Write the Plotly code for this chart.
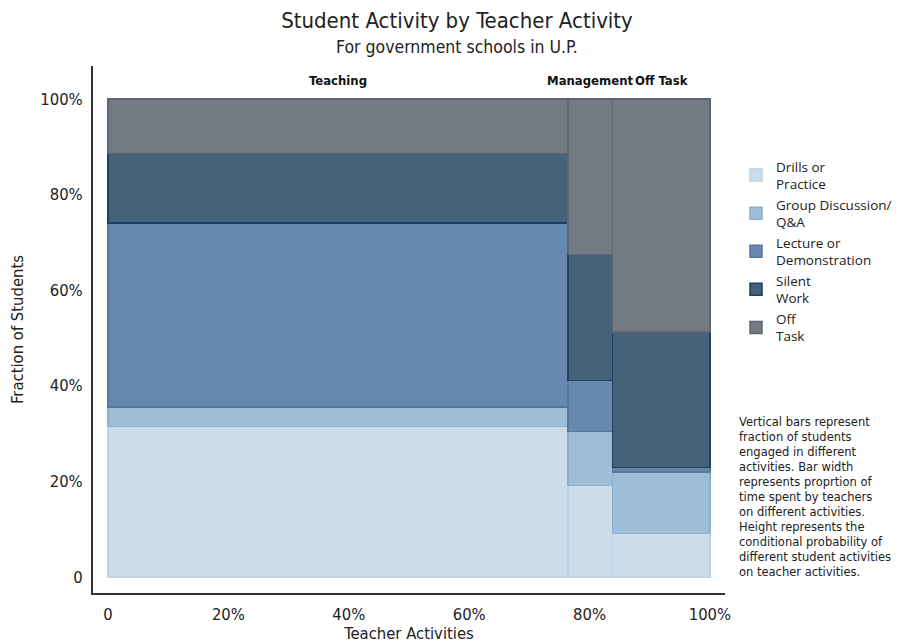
import plotly.graph_objects as go

# ── Data ──────────────────────────────────────────────────────────────────────
teacher_activities = ["Teaching", "Management", "Off Task"]
teacher_share = [0.764, 0.074, 0.162]          # bar widths (fraction of teacher time)

student_activities = ["Drills or<br>Practice", "Group Discussion/<br>Q&A",
                      "Lecture or<br>Demonstration", "Silent<br>Work", "Off<br>Task"]
drills = [0.314, 0.191, 0.091]
group_discussion = [0.041, 0.113, 0.128]
lecture = [0.385, 0.107, 0.010]
silent_work = [0.146, 0.263, 0.283]
off_task = [0.114, 0.326, 0.488]
series = [drills, group_discussion, lecture, silent_work, off_task]

tick_vals = [0, 0.2, 0.4, 0.6, 0.8, 1.0]
tick_text = ["0", "20%", "40%", "60%", "80%", "100%"]

note_lines = [
    "Vertical bars represent", "fraction of students", "engaged in different",
    "activities. Bar width", "represents proprtion of", "time spent by teachers",
    "on different activities.", "Height represents the", "conditional probability of",
    "different student activities", "on teacher activities.",
]

# ── Styling ───────────────────────────────────────────────────────────────────
FILLS = ["#CCDCE9", "#9EBDD7", "#6789AD", "#45627B", "#737A83"]
EDGES = ["#BED2E4", "#8CAFCF", "#5577A0", "#213F61", "#5E666F"]
NARROW = "Liberation Sans Narrow, Arial Narrow, DejaVu Sans Condensed, sans-serif"
BODY = "Open Sans, sans-serif"
TEXT = "#222"

# page body has an 8px margin, so the figure is 912x635 inside the 920x643 window
W, H = 912, 635
LEFT, RIGHT, TOP, BOTTOM = 85, 717, 58, 585     # plot area in figure pixels


def paper_y(py):
    return (BOTTOM - py) / (BOTTOM - TOP)


def paper_x(px):
    return (px - LEFT) / (RIGHT - LEFT)


# mosaic geometry: bar centres from cumulative widths
left_edges = [sum(teacher_share[:i]) for i in range(len(teacher_share))]
centres = [l + w / 2 for l, w in zip(left_edges, teacher_share)]

fig = go.Figure()
for name, vals, fill, edge in zip(student_activities, series, FILLS, EDGES):
    fig.add_trace(go.Bar(
        name=name, x=centres, y=vals, width=teacher_share,
        marker=dict(color=fill, line=dict(color=edge, width=1.5)),
        customdata=teacher_activities,
        hovertemplate="%{customdata}<br>%{y:.1%}<extra></extra>",
    ))

# teacher activity labels above each column
for label, c in zip(teacher_activities, centres):
    fig.add_annotation(x=c, y=1.038, xref="x", yref="y", yanchor="middle",
                       text=f"<b>{label}</b>", showarrow=False,
                       font=dict(family=NARROW, size=13, color="#111"))

# subtitle
fig.add_annotation(xref="paper", yref="paper", x=paper_x(449), y=paper_y(39),
                   xanchor="center", yanchor="middle", showarrow=False,
                   text="For government schools in U.P.",
                   font=dict(family=NARROW, size=17.5, color=TEXT))

# explanatory note on the right
fig.add_annotation(xref="paper", yref="paper", x=paper_x(729), y=paper_y(405),
                   xanchor="left", yanchor="top", align="left", showarrow=False,
                   text="<br>".join(note_lines),
                   font=dict(family="DejaVu Sans, sans-serif", size=11.5, color=TEXT))

fig.update_layout(
    barmode="stack",
    width=W, height=H,
    margin=dict(l=LEFT, r=W - RIGHT, t=TOP, b=H - BOTTOM, autoexpand=False),
    paper_bgcolor="white", plot_bgcolor="white",
    title=dict(
        text="Student Activity by Teacher Activity",
        x=449 / W, xanchor="center", y=1 - 12 / H, yanchor="middle",
        font=dict(family=NARROW, size=22, color=TEXT),
    ),
    legend=dict(
        x=paper_x(728), y=paper_y(143), xanchor="left", yanchor="top", traceorder="normal",
        font=dict(family=BODY, size=13.5, color=TEXT),
    ),
    showlegend=True,
)
fig.update_xaxes(
    range=[-0.025, 1.025], tickvals=tick_vals, ticktext=tick_text, automargin=False,
    showgrid=False, zeroline=False, showline=True, linecolor="#333", linewidth=2,
    ticks="", ticklabelstandoff=5,
    tickfont=dict(family=NARROW, size=16.5, color=TEXT),
    title=dict(text="Teacher Activities", standoff=4,
               font=dict(family=NARROW, size=16.5, color=TEXT)),
)
fig.update_yaxes(
    range=[-0.034, 1.069], tickvals=tick_vals, ticktext=tick_text, automargin=False,
    showgrid=False, zeroline=False, showline=True, linecolor="#333", linewidth=2,
    ticks="", ticklabelstandoff=5,
    tickfont=dict(family=NARROW, size=16.5, color=TEXT),
    title=dict(text="Fraction of Students", standoff=14,
               font=dict(family=NARROW, size=16.5, color=TEXT)),
)

fig.write_html("out.html")
